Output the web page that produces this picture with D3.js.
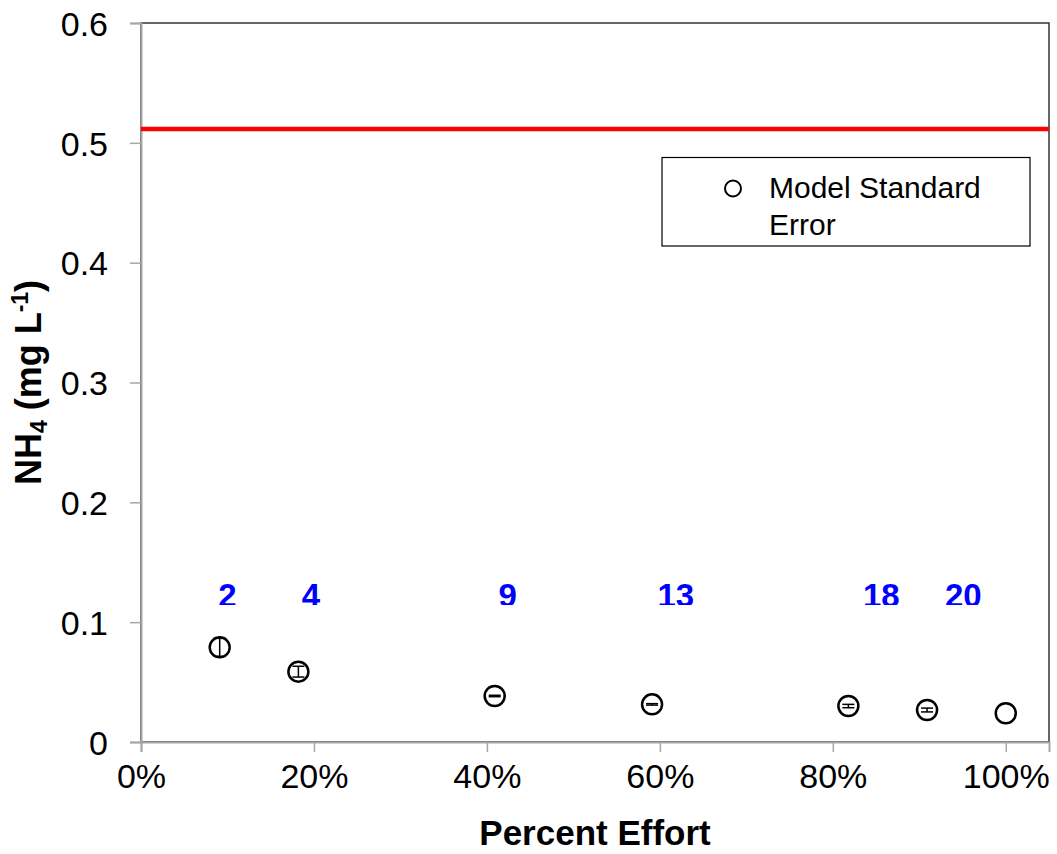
<!DOCTYPE html>
<html>
<head>
<meta charset="utf-8">
<script src="https://cdn.jsdelivr.net/npm/d3@7"></script>
<style>
  body { margin: 0; background: #fff; }
  svg { display: block; font-family: "Liberation Sans", Arial, sans-serif; }
</style>
</head>
<body>
<svg id="chart"></svg>
<script>
const width = 1057, height = 854;
const margin = {top: 23, right: 8, bottom: 112, left: 141};

// data
const effort = [0.091, 0.182, 0.409, 0.591, 0.818, 0.909, 1.0];
const nh4 = [0.079, 0.0587, 0.0384, 0.0314, 0.030, 0.0267, 0.024];
const stdErr = [0.0075, 0.0045, 0.0006, 0.0006, 0.0014, 0.0016, 0];
const sampleLabels = ["2", "4", "9", "13", "18", "20"];
const labelX = [0.100, 0.1965, 0.424, 0.6185, 0.856, 0.951];
const labelY = 0.113;
const labelClipY = 0.1143;
const threshold = 0.5115;
const xTicks = [0, 0.2, 0.4, 0.6, 0.8, 1.0];
const yTicks = [0, 0.1, 0.2, 0.3, 0.4, 0.5, 0.6];

const svg = d3.select("#chart").attr("width", width).attr("height", height);

const x = d3.scaleLinear().domain([0, 1.05]).range([margin.left, width - margin.right]);
const y = d3.scaleLinear().domain([0, 0.6]).range([height - margin.bottom, margin.top]);

const points = effort.map((e, i) => ({x: e, y: nh4[i], se: stdErr[i]}));

// plot frame (top and right edges dark)
svg.append("rect")
  .attr("x", x(0)).attr("y", y(0.6))
  .attr("width", x(1.05) - x(0)).attr("height", y(0) - y(0.6))
  .attr("fill", "none").attr("stroke", "#333").attr("stroke-width", 1.5);

// axes
const xAxis = svg.append("g")
  .attr("transform", "translate(0," + y(0) + ")")
  .call(d3.axisBottom(x).tickValues(xTicks).tickSize(10).tickPadding(12)
    .tickFormat(d3.format(".0%")));
const yAxis = svg.append("g")
  .attr("transform", "translate(" + x(0) + ",0)")
  .call(d3.axisLeft(y).tickValues(yTicks).tickSize(11).tickPadding(22)
    .tickFormat(d => d === 0 ? "0" : d3.format(".1f")(d)));

[xAxis, yAxis].forEach(g => {
  g.select(".domain").attr("stroke", "#a6a6a6").attr("stroke-width", 2);
  g.selectAll(".tick line").attr("stroke", "#a6a6a6").attr("stroke-width", 1.5);
  g.selectAll(".tick text").attr("fill", "#000")
    .style("font-size", "34px").style("font-family", "Liberation Sans, Arial, sans-serif");
});
yAxis.selectAll(".tick text").attr("dy", "0.36em");
xAxis.selectAll(".tick text").attr("dy", "0.71em");

// red reference line
svg.append("line")
  .attr("x1", x(0)).attr("x2", x(1.05))
  .attr("y1", y(threshold)).attr("y2", y(threshold))
  .attr("stroke", "#ff0000").attr("stroke-width", 4.5);

// error bars
const eb = svg.append("g").attr("stroke", "#000").attr("stroke-width", 1.5);
points.filter(d => d.se > 0).forEach(d => {
  eb.append("line")
    .attr("x1", x(d.x)).attr("x2", x(d.x))
    .attr("y1", y(d.y - d.se)).attr("y2", y(d.y + d.se));
  [d.y - d.se, d.y + d.se].forEach(v => {
    eb.append("line")
      .attr("x1", x(d.x) - 6).attr("x2", x(d.x) + 6)
      .attr("y1", y(v)).attr("y2", y(v));
  });
});

// markers
svg.selectAll(".pt")
  .data(points)
  .join("circle")
  .attr("class", "pt")
  .attr("cx", d => x(d.x))
  .attr("cy", d => y(d.y))
  .attr("r", 10)
  .attr("fill", "none")
  .attr("stroke", "#000")
  .attr("stroke-width", 2.5);

// blue sample count labels, cut at the bottom like the original
svg.append("clipPath").attr("id", "labclip")
  .append("rect")
  .attr("x", 0).attr("y", 0)
  .attr("width", width).attr("height", y(labelClipY));

svg.append("g").attr("clip-path", "url(#labclip)")
  .selectAll("text")
  .data(sampleLabels)
  .join("text")
  .attr("x", (d, i) => x(labelX[i]))
  .attr("y", y(labelY))
  .attr("text-anchor", "middle")
  .attr("fill", "#0000ff")
  .style("font-size", "33px")
  .style("font-weight", "bold")
  .text(d => d);

// legend
const lg = svg.append("g");
lg.append("rect")
  .attr("x", 662).attr("y", 157.5)
  .attr("width", 368).attr("height", 88.5)
  .attr("fill", "#fff").attr("stroke", "#000").attr("stroke-width", 1.2);
lg.append("circle")
  .attr("cx", 733).attr("cy", 188.5).attr("r", 8)
  .attr("fill", "none").attr("stroke", "#000").attr("stroke-width", 2);
lg.append("text").attr("x", 769).attr("y", 198)
  .style("font-size", "30px").text("Model Standard");
lg.append("text").attr("x", 769).attr("y", 235)
  .style("font-size", "30px").text("Error");

// axis titles
svg.append("text")
  .attr("x", (x(0) + x(1.05)) / 2)
  .attr("y", 845)
  .attr("text-anchor", "middle")
  .style("font-size", "35px").style("font-weight", "bold")
  .text("Percent Effort");

const yt = svg.append("text")
  .attr("transform", "translate(41," + ((y(0) + y(0.6)) / 2) + ") rotate(-90)")
  .attr("text-anchor", "middle")
  .style("font-size", "36px").style("font-weight", "bold");
yt.append("tspan").text("NH");
yt.append("tspan").attr("dy", 6).style("font-size", "23px").text("4");
yt.append("tspan").attr("dy", -6).text(" (mg L");
yt.append("tspan").attr("dy", -13).style("font-size", "23px").text("-1");
yt.append("tspan").attr("dy", 13).text(")");
</script>
</body>
</html>
